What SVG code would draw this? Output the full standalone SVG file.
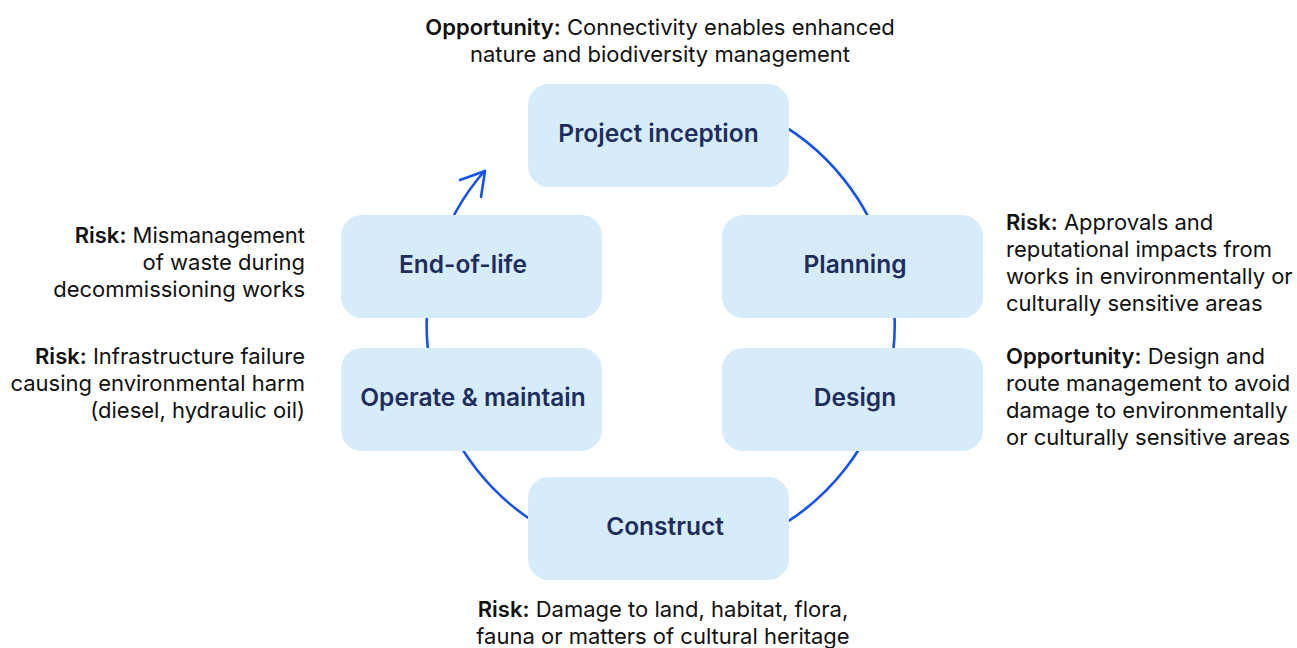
<svg xmlns="http://www.w3.org/2000/svg" width="1297" height="648" viewBox="0 0 1297 648">
  <style>
    .box { fill: #d6ecfb; }
    .label { font-family: Inter, "Noto Sans", sans-serif; font-size: 24.5px; font-weight: 600; fill: #1e2d5e; text-anchor: middle; }
    .note { font-family: Inter, "Noto Sans", sans-serif; font-size: 22px; fill: #111; }
    .note tspan.b { font-weight: 600; }
    .ring { fill: none; stroke: #1652f0; stroke-width: 2.6; stroke-linecap: round; stroke-linejoin: round; }
  </style>
  <rect width="1297" height="648" fill="#ffffff"/>

  <!-- lifecycle ring, drawn behind the stage boxes -->
  <g id="connectors">
    <path class="ring" d="M 659 91 A 234 234 0 1 1 484.5 171"/>
    <polyline class="ring" points="460,180 485,171 481,197"/>
  </g>

  <g id="node-project-inception">
    <rect class="box" x="528" y="84" width="261" height="103" rx="21"/>
    <text class="label" x="658.5" y="142">Project inception</text>
  </g>
  <g id="node-planning">
    <rect class="box" x="722" y="215" width="261" height="103" rx="21"/>
    <text class="label" x="855" y="273">Planning</text>
  </g>
  <g id="node-design">
    <rect class="box" x="722" y="348" width="261" height="103" rx="21"/>
    <text class="label" x="855" y="406">Design</text>
  </g>
  <g id="node-construct">
    <rect class="box" x="528" y="477" width="261" height="103" rx="21"/>
    <text class="label" x="665" y="535">Construct</text>
  </g>
  <g id="node-operate">
    <rect class="box" x="341" y="348" width="261" height="103" rx="21"/>
    <text class="label" x="473" y="406">Operate &amp; maintain</text>
  </g>
  <g id="node-end-of-life">
    <rect class="box" x="341" y="215" width="261" height="103" rx="21"/>
    <text class="label" x="463" y="273">End-of-life</text>
  </g>

  <!-- annotations -->
  <g id="note-top">
    <text class="note" text-anchor="middle" x="660" y="35"><tspan class="b">Opportunity:</tspan> Connectivity enables enhanced</text>
    <text class="note" text-anchor="middle" x="660" y="62">nature and biodiversity management</text>
  </g>
  <g id="note-end-of-life">
    <text class="note" text-anchor="end" x="305" y="243"><tspan class="b">Risk:</tspan> Mismanagement</text>
    <text class="note" text-anchor="end" x="305" y="270">of waste during</text>
    <text class="note" text-anchor="end" x="305" y="297">decommissioning works</text>
  </g>
  <g id="note-operate">
    <text class="note" text-anchor="end" x="305" y="364"><tspan class="b">Risk:</tspan> Infrastructure failure</text>
    <text class="note" text-anchor="end" x="305" y="391">causing environmental harm</text>
    <text class="note" text-anchor="end" x="305" y="418">(diesel, hydraulic oil)</text>
  </g>
  <g id="note-planning">
    <text class="note" x="1006" y="230"><tspan class="b">Risk:</tspan> Approvals and</text>
    <text class="note" x="1006" y="257">reputational impacts from</text>
    <text class="note" x="1006" y="284">works in environmentally or</text>
    <text class="note" x="1006" y="311">culturally sensitive areas</text>
  </g>
  <g id="note-design">
    <text class="note" x="1006" y="364"><tspan class="b">Opportunity:</tspan> Design and</text>
    <text class="note" x="1006" y="391">route management to avoid</text>
    <text class="note" x="1006" y="418">damage to environmentally</text>
    <text class="note" x="1006" y="445">or culturally sensitive areas</text>
  </g>
  <g id="note-construct">
    <text class="note" text-anchor="middle" x="663" y="617"><tspan class="b">Risk:</tspan> Damage to land, habitat, flora,</text>
    <text class="note" text-anchor="middle" x="663" y="644">fauna or matters of cultural heritage</text>
  </g>
</svg>
